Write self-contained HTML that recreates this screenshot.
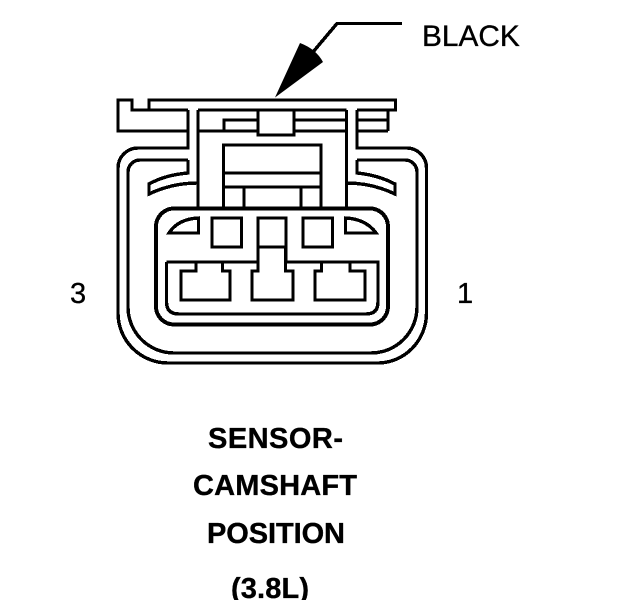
<!DOCTYPE html>
<html><head><meta charset="utf-8"><style>
html,body{margin:0;padding:0;background:#fff;width:624px;height:600px;overflow:hidden}
svg{display:block}
text{font-family:"Liberation Sans",Arial,sans-serif;fill:#000;stroke:#000;stroke-width:.35px}
.b{font-weight:bold;font-size:29px}
</style></head><body>
<svg width="624" height="600" viewBox="0 0 624 600" xmlns="http://www.w3.org/2000/svg">
<rect width="624" height="600" fill="#fff"/>
<g fill="none" stroke="#000" stroke-width="3.4" stroke-linejoin="miter" shape-rendering="crispEdges">
<path d="M313 52L337 23.500H402"/>
<path d="M188 110H132V100H118V131H188M149 110V100H395.500V110H357M188 110V148H138A20 20 0 0 0 118 168V313A50 50 0 0 0 168 363H378A49 50 0 0 0 426.500 313V168A20 20 0 0 0 406 148H357V110"/>
<path d="M198 110H346.500M198 110V208M346.500 110V208M198 131H258M224 131V120H258M293 120H346.500M293 131H346.500"/>
<path d="M258 110V135H294V110"/>
<path d="M357 120H388M388 110V131M357 131H388"/>
<path d="M223.500 208V145H321V208M223.500 173H321M223.500 187H321M244 187V208M301 187V208"/>
<path d="M188 160H140A12 12 0 0 0 128 172V307A46 46 0 0 0 174 353H371A46 46 0 0 0 417 307V172A12 12 0 0 0 405 160H357"/>
<path d="M188 160V173Q165 175 149 184V194Q172 183 198 183M357 160V173Q378 175 395 184V194Q372 183 346.500 183"/>
<rect x="156" y="208.500" width="232" height="116" rx="18" stroke-width="4"/>
<path d="M166.500 262V302Q166.500 314 179 314H366Q378 314 378 302V262H286V243M166.500 262H258"/>
<path d="M198.500 218V233H169Q178 219 198.500 218ZM345.500 218V233H376Q366 219 345.500 218Z"/>
<rect x="212" y="218" width="29.500" height="29"/>
<rect x="303" y="218" width="29.500" height="29"/>
<path d="M258 247V218H286V247M258 247H286M258 247V271H252V300H293V271H285.500V247"/>
<path d="M196 262V271H181V300H230V271H222.500V262M321.500 262V271H315V300H365V271H350V262"/>
</g>
<path d="M275 97.500L300 43Q316 49 323 62Z" fill="#000"/>
<text x="422" y="46" font-size="29.800">BLACK</text>
<text x="70" y="303" font-size="29">3</text>
<text x="457" y="303" font-size="29">1</text>
<text class="b" x="208" y="448" textLength="135">SENSOR-</text>
<text class="b" x="193" y="495" textLength="164">CAMSHAFT</text>
<text class="b" x="207" y="543" textLength="138">POSITION</text>
<text class="b" x="231" y="598" textLength="78">(3.8L)</text>
</svg>
</body></html>
